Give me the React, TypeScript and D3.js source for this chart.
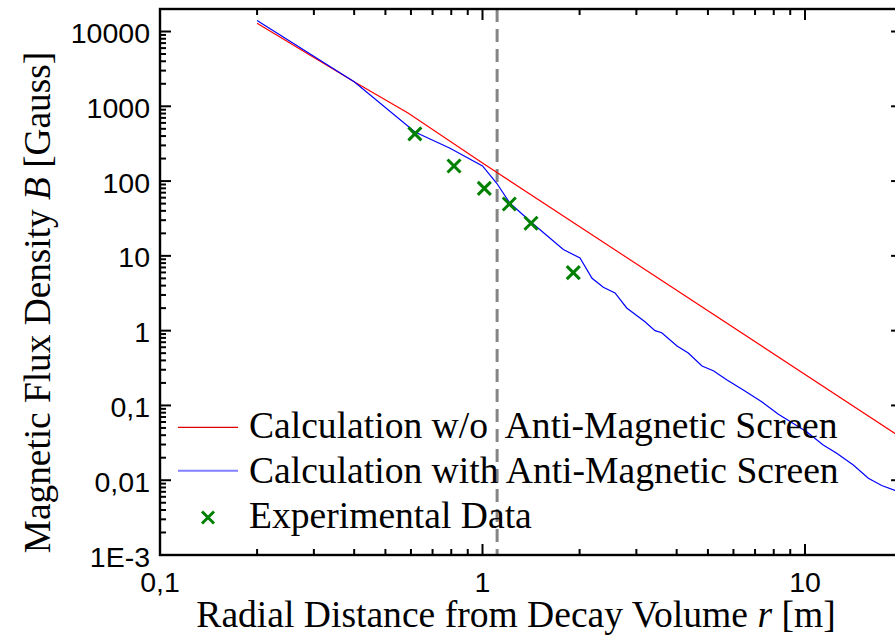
import React from "react";
import * as d3 from "d3";

// Field calculation without the anti-magnetic screen (r in m, B in Gauss)
const redR = [0.2, 0.4, 0.5875, 1.0, 20];
const redB = [12890, 2134, 814, 174.6, 0.0366];

// Field calculation with the anti-magnetic screen
const blueR = [
  0.2, 0.4, 0.6175, 0.793, 1.0, 1.107, 1.217, 1.437, 1.781, 2.006, 2.186, 2.369,
  2.576, 2.8, 3.19, 3.426, 3.595, 4.01, 4.346, 4.793, 5.196, 5.731, 6.437, 7.34, 8.248,
  10.12, 11.39, 12.54, 14.12, 15.72, 17.29, 19.01, 20,
];
const blueB = [
  14050, 2134, 453.6, 274.5, 159.2, 93.5, 50.5, 26.7, 12.17, 9.37, 5.01, 3.8, 3.19,
  2.01, 1.318, 0.999, 0.939, 0.6235, 0.5027, 0.3368, 0.2914, 0.2189, 0.1609, 0.1122,
  0.0768, 0.0445, 0.0296, 0.0229, 0.01598, 0.01061, 0.0085, 0.00729, 0.0068,
];

// Measured values
const expR = [0.617, 0.816, 1.013, 1.211, 1.414, 1.912];
const expB = [427, 159, 80, 49.4, 27.3, 5.96];

// Boundary of the decay volume
const boundaryR = 1.11;

const xTickValues = [0.1, 1, 10];
const xTickLabels = ["0,1", "1", "10"];
const yTickValues = [1e-3, 1e-2, 1e-1, 1, 10, 100, 1000, 10000];
const yTickLabels = ["1E-3", "0,01", "0,1", "1", "10", "100", "1000", "10000"];

const legendLabels = [
  "Calculation w/o\u00A0 Anti-Magnetic Screen",
  "Calculation with Anti-Magnetic Screen",
  "Experimental Data",
];

const W = 895;
const H = 637;
const left = 160;
const top = 9;
const bottom = 555;
const decadePx = 322.5;
const right = left + decadePx * Math.log10(200);

const serif = "'Liberation Serif', 'Times New Roman', serif";
const sans = "'Liberation Sans', Arial, Helvetica, sans-serif";

function minorTicks(lo: number, hi: number): number[] {
  const out: number[] = [];
  for (let e = Math.floor(Math.log10(lo)); e <= Math.ceil(Math.log10(hi)); e++) {
    for (let m = 2; m <= 9; m++) {
      const v = m * Math.pow(10, e);
      if (v > lo && v < hi) out.push(v);
    }
  }
  return out;
}

function Cross({ cx, cy, s }: { cx: number; cy: number; s: number }) {
  return (
    <g stroke="#008000" strokeWidth={3}>
      <line x1={cx - s} y1={cy - s} x2={cx + s} y2={cy + s} />
      <line x1={cx - s} y1={cy + s} x2={cx + s} y2={cy - s} />
    </g>
  );
}

export default function App() {
  const x = d3.scaleLog().domain([0.1, 20]).range([left, right]);
  const y = d3.scaleLog().domain([1e-3, 2e4]).range([bottom, top]);

  const line = d3
    .line<[number, number]>()
    .x((d) => x(d[0]))
    .y((d) => y(d[1]));

  const redPts = redR.map((r, i) => [r, redB[i]] as [number, number]);
  const bluePts = blueR.map((r, i) => [r, blueB[i]] as [number, number]);

  const xMinor = minorTicks(0.1, 20);
  const yMinor = minorTicks(1e-3, 2e4);
  const major = 11;
  const minor = 6;

  return (
    <svg
      width={W}
      height={H}
      style={{ position: "absolute", left: 0, top: 0, background: "#fff" }}
    >
      <rect x={0} y={0} width={W} height={H} fill="#fff" />
      <defs>
        <clipPath id="plot">
          <rect x={left} y={top} width={right - left} height={bottom - top} />
        </clipPath>
      </defs>

      {/* boundary marker */}
      <line
        x1={x(boundaryR)}
        x2={x(boundaryR)}
        y1={top}
        y2={bottom}
        stroke="#858585"
        strokeWidth={3}
        strokeDasharray="13,7"
      />

      <g clipPath="url(#plot)">
        <path d={line(redPts) || ""} fill="none" stroke="#ff0000" strokeWidth={1.2} />
        <path d={line(bluePts) || ""} fill="none" stroke="#0000ff" strokeWidth={1.2} />
        {expR.map((r, i) => (
          <Cross key={i} cx={x(r)} cy={y(expB[i])} s={6.5} />
        ))}
      </g>

      {/* frame */}
      <rect
        x={left}
        y={top}
        width={right - left}
        height={bottom - top}
        fill="none"
        stroke="#000"
        strokeWidth={2.4}
      />

      {/* ticks on all four sides */}
      <g stroke="#000" strokeWidth={2}>
        {xTickValues.map((v) => (
          <g key={"xM" + v}>
            <line x1={x(v)} x2={x(v)} y1={bottom} y2={bottom - major} />
            <line x1={x(v)} x2={x(v)} y1={top} y2={top + major} />
          </g>
        ))}
        {xMinor.map((v) => (
          <g key={"xm" + v}>
            <line x1={x(v)} x2={x(v)} y1={bottom} y2={bottom - minor} />
            <line x1={x(v)} x2={x(v)} y1={top} y2={top + minor} />
          </g>
        ))}
        {yTickValues.map((v) => (
          <g key={"yM" + v}>
            <line x1={left} x2={left + major} y1={y(v)} y2={y(v)} />
            <line x1={right} x2={right - major} y1={y(v)} y2={y(v)} />
          </g>
        ))}
        {yMinor.map((v) => (
          <g key={"ym" + v}>
            <line x1={left} x2={left + minor} y1={y(v)} y2={y(v)} />
            <line x1={right} x2={right - minor} y1={y(v)} y2={y(v)} />
          </g>
        ))}
      </g>

      {/* tick labels */}
      <g fontFamily={sans} fontSize={28.5} fill="#000">
        {xTickValues.map((v, i) => (
          <text key={"xl" + v} x={x(v)} y={592} textAnchor="middle">
            {xTickLabels[i]}
          </text>
        ))}
        {yTickValues.map((v, i) => (
          <text key={"yl" + v} x={150} y={y(v) + 11.5} textAnchor="end">
            {yTickLabels[i]}
          </text>
        ))}
      </g>

      {/* axis titles */}
      <text
        x={516}
        y={627}
        textAnchor="middle"
        fontFamily={serif}
        fontSize={37.6}
        fill="#000"
      >
        Radial Distance from Decay Volume <tspan fontStyle="italic">r</tspan> [m]
      </text>
      <text
        transform="translate(50,302.5) rotate(-90)"
        textAnchor="middle"
        fontFamily={serif}
        fontSize={37.3}
        fill="#000"
      >
        Magnetic Flux Density <tspan fontStyle="italic">B</tspan> [Gauss]
      </text>

      {/* legend */}
      <g fontFamily={serif} fontSize={37.6} fill="#000">
        <line x1={178} x2={238} y1={427.3} y2={427.3} stroke="#e00000" strokeWidth={1.2} />
        <line x1={178} x2={238} y1={470.7} y2={470.7} stroke="#8080ff" strokeWidth={2} />
        <Cross cx={208} cy={517.5} s={6} />
        {legendLabels.map((t, i) => (
          <text key={t} x={249} y={438.3 + i * 45}>
            {t}
          </text>
        ))}
      </g>
    </svg>
  );
}
